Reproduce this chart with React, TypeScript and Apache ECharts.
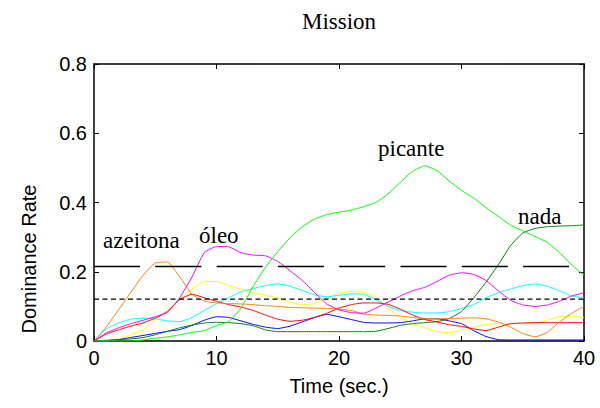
import React, { useEffect, useRef } from "react";
import * as echarts from "echarts";

// Sample times (seconds)
const times = [0,1,2,3,4,5,6,7,8,9,10,11,12,13,14,15,16,17,18,19,20,21,22,23,24,25,26,27,28,29,30,31,32,33,34,35,36,37,38,39,40];

const picante = [0,0,0,0,0.003,0.008,0.012,0.018,0.025,0.03,0.045,0.056,0.095,0.158,0.213,0.258,0.298,0.33,0.352,0.365,0.372,0.378,0.388,0.4,0.425,0.458,0.49,0.506,0.492,0.462,0.435,0.413,0.385,0.36,0.335,0.318,0.302,0.285,0.255,0.22,0.19];
const nada = [0,0.002,0.004,0.006,0.01,0.018,0.028,0.038,0.046,0.052,0.054,0.053,0.05,0.044,0.032,0.027,0.027,0.027,0.027,0.027,0.027,0.027,0.027,0.028,0.036,0.045,0.05,0.053,0.056,0.065,0.085,0.125,0.17,0.22,0.275,0.312,0.325,0.33,0.332,0.333,0.335];
const azeitona = [0,0.04,0.09,0.14,0.19,0.225,0.228,0.185,0.135,0.115,0.11,0.108,0.107,0.105,0.102,0.1,0.097,0.096,0.095,0.094,0.092,0.088,0.078,0.075,0.074,0.072,0.068,0.065,0.064,0.065,0.066,0.067,0.064,0.055,0.04,0.022,0.012,0.025,0.055,0.08,0.1];
const oleo = [0,0.023,0.038,0.05,0.06,0.07,0.083,0.125,0.185,0.255,0.273,0.272,0.255,0.248,0.246,0.23,0.203,0.175,0.14,0.107,0.09,0.082,0.08,0.095,0.112,0.13,0.145,0.155,0.172,0.19,0.197,0.192,0.175,0.145,0.118,0.104,0.1,0.104,0.115,0.13,0.139];
const red = [0,0.02,0.032,0.043,0.052,0.066,0.085,0.12,0.135,0.125,0.115,0.105,0.098,0.088,0.075,0.063,0.057,0.06,0.068,0.08,0.095,0.105,0.11,0.11,0.106,0.092,0.075,0.062,0.055,0.047,0.042,0.035,0.03,0.04,0.05,0.052,0.053,0.053,0.053,0.053,0.053];
const yellow = [0,0,0.005,0.018,0.032,0.062,0.09,0.12,0.15,0.172,0.172,0.16,0.15,0.14,0.132,0.125,0.112,0.105,0.108,0.122,0.138,0.143,0.14,0.125,0.095,0.068,0.05,0.038,0.027,0.024,0.032,0.04,0.048,0.05,0.05,0.05,0.052,0.06,0.07,0.072,0.068];
const cyan = [0,0.035,0.052,0.063,0.066,0.064,0.058,0.056,0.068,0.088,0.108,0.125,0.142,0.152,0.16,0.165,0.158,0.146,0.133,0.128,0.132,0.136,0.135,0.12,0.1,0.088,0.083,0.081,0.081,0.085,0.094,0.105,0.125,0.139,0.15,0.16,0.165,0.158,0.145,0.13,0.125];
const blue = [0,0.001,0.004,0.01,0.016,0.022,0.028,0.033,0.045,0.06,0.07,0.068,0.058,0.048,0.04,0.036,0.043,0.055,0.068,0.077,0.07,0.062,0.054,0.052,0.052,0.053,0.058,0.064,0.064,0.058,0.05,0.03,0.013,0.004,0.003,0.003,0.003,0.003,0.003,0.003,0.003];

const thresholdHigh = 0.215;
const thresholdLow = 0.121;
const xRange = [0, 40];

const xTicks = [0, 10, 20, 30, 40];
const yTicks = [0, 0.2, 0.4, 0.6, 0.8];

const curves = [
  { name: "yellow", data: yellow, color: "#FFFF00" },
  { name: "cyan", data: cyan, color: "#00FFFF" },
  { name: "blue", data: blue, color: "#0000FF" },
  { name: "nada", data: nada, color: "#008000" },
  { name: "red", data: red, color: "#FF0000" },
  { name: "azeitona", data: azeitona, color: "#FF8000" },
  { name: "oleo", data: oleo, color: "#FF00FF" },
  { name: "picante", data: picante, color: "#00FF00" },
];

const SANS = "'Liberation Sans', Arial, Helvetica, sans-serif";
const SERIF = "'Liberation Serif', 'Times New Roman', serif";

export default function App() {
  const ref = useRef<HTMLDivElement>(null);
  useEffect(() => {
    if (!ref.current) return;
    const chart = echarts.init(ref.current, null, { renderer: "svg" });
    const axisCommon = {
      type: "value" as const,
      axisLine: { show: true, onZero: false, lineStyle: { color: "#000", width: 1.5 } },
      axisTick: { show: true, inside: true, length: 5, lineStyle: { color: "#000", width: 1 } },
      splitLine: { show: false },
    };
    const option: any = {
      animation: false,
      backgroundColor: "#fff",
      grid: { left: 94, right: 16, top: 64, bottom: 67, containLabel: false },
      xAxis: [
        {
          ...axisCommon,
          position: "bottom",
          min: xTicks[0],
          max: xTicks[xTicks.length - 1],
          interval: 10,
          axisLabel: { show: true, color: "#000", fontSize: 20, fontFamily: SANS, margin: 7 },
        },
        {
          ...axisCommon,
          position: "top",
          min: xTicks[0],
          max: xTicks[xTicks.length - 1],
          interval: 10,
          axisLabel: { show: false },
        },
      ],
      yAxis: [
        {
          ...axisCommon,
          position: "left",
          min: yTicks[0],
          max: yTicks[yTicks.length - 1],
          interval: 0.2,
          axisLabel: {
            show: true, color: "#000", fontSize: 20, fontFamily: SANS, margin: 7,
            formatter: (v: number) => (v === 0 ? "0" : v.toFixed(1)),
          },
        },
        {
          ...axisCommon,
          position: "right",
          min: yTicks[0],
          max: yTicks[yTicks.length - 1],
          interval: 0.2,
          axisLabel: { show: false },
        },
      ],
      series: [
        ...curves.map((c) => ({
          type: "line",
          name: c.name,
          data: times.map((t, i) => [t, c.data[i]]),
          showSymbol: false,
          symbol: "none",
          smooth: 0.15,
          lineStyle: { color: c.color, width: 1 },
          itemStyle: { color: c.color },
          z: 2,
        })),
        {
          type: "line",
          name: "high",
          data: [[xRange[0], thresholdHigh], [xRange[1], thresholdHigh]],
          showSymbol: false,
          symbol: "none",
          lineStyle: { color: "#000", width: 1.6, type: [46, 15.3] },
          z: 3,
        },
        {
          type: "line",
          name: "low",
          data: [[xRange[0], thresholdLow], [xRange[1], thresholdLow]],
          showSymbol: false,
          symbol: "none",
          lineStyle: { color: "#000", width: 1.4, type: [5, 3.5] },
          z: 3,
        },
      ],
      graphic: [
        { type: "text", x: 339, y: 21, style: { text: "Mission", font: `23px ${SERIF}`, fill: "#000", align: "center", verticalAlign: "middle" } },
        { type: "text", x: 339, y: 386, style: { text: "Time (sec.)", font: `20px ${SANS}`, fill: "#000", align: "center", verticalAlign: "middle" } },
        { type: "text", x: 29, y: 259, rotation: Math.PI / 2, style: { text: "Dominance Rate", font: `20px ${SANS}`, fill: "#000", align: "center", verticalAlign: "middle" } },
        { type: "text", x: 103, y: 252, style: { text: "azeitona", font: `23px ${SERIF}`, fill: "#000", align: "left", verticalAlign: "bottom" } },
        { type: "text", x: 199, y: 247, style: { text: "óleo", font: `23px ${SERIF}`, fill: "#000", align: "left", verticalAlign: "bottom" } },
        { type: "text", x: 378, y: 160, style: { text: "picante", font: `23px ${SERIF}`, fill: "#000", align: "left", verticalAlign: "bottom" } },
        { type: "text", x: 518, y: 228, style: { text: "nada", font: `23px ${SERIF}`, fill: "#000", align: "left", verticalAlign: "bottom" } },
      ],
    };
    chart.setOption(option);
    return () => chart.dispose();
  }, []);
  return <div ref={ref} style={{ width: 600, height: 408, position: "absolute", left: 0, top: 0, background: "#fff" }} />;
}
